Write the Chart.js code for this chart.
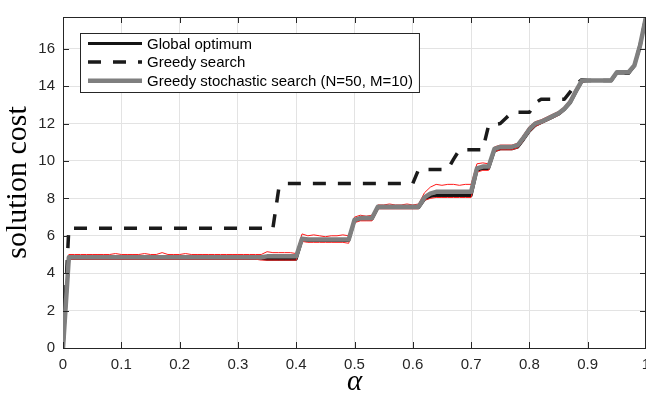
<!DOCTYPE html>
<html>
<head>
<meta charset="utf-8">
<script src="https://cdn.jsdelivr.net/npm/chart.js@4"></script>
<style>
    html, body { margin: 0; padding: 0; background: #fff; overflow: hidden; }
    canvas { display: block; }
</style>
</head>
<body>
<canvas id="grafico" width="646" height="397"></canvas>
<script>
// alpha values, 0 .. 1 in steps of 0.01
const alpha = [
    0.00, 0.01, 0.02, 0.03, 0.04, 0.05, 0.06, 0.07, 0.08, 0.09,
    0.10, 0.11, 0.12, 0.13, 0.14, 0.15, 0.16, 0.17, 0.18, 0.19,
    0.20, 0.21, 0.22, 0.23, 0.24, 0.25, 0.26, 0.27, 0.28, 0.29,
    0.30, 0.31, 0.32, 0.33, 0.34, 0.35, 0.36, 0.37, 0.38, 0.39,
    0.40, 0.41, 0.42, 0.43, 0.44, 0.45, 0.46, 0.47, 0.48, 0.49,
    0.50, 0.51, 0.52, 0.53, 0.54, 0.55, 0.56, 0.57, 0.58, 0.59,
    0.60, 0.61, 0.62, 0.63, 0.64, 0.65, 0.66, 0.67, 0.68, 0.69,
    0.70, 0.71, 0.72, 0.73, 0.74, 0.75, 0.76, 0.77, 0.78, 0.79,
    0.80, 0.81, 0.82, 0.83, 0.84, 0.85, 0.86, 0.87, 0.88, 0.89,
    0.90, 0.91, 0.92, 0.93, 0.94, 0.95, 0.96, 0.97, 0.98, 0.99,
    1.00
];

const globalOptimum = [
    0, 4.8, 4.8, 4.8, 4.8, 4.8, 4.8, 4.8, 4.8, 4.8,
    4.8, 4.8, 4.8, 4.8, 4.8, 4.8, 4.8, 4.8, 4.8, 4.8,
    4.8, 4.8, 4.8, 4.8, 4.8, 4.8, 4.8, 4.8, 4.8, 4.8,
    4.8, 4.8, 4.8, 4.8, 4.8, 4.75, 4.75, 4.75, 4.75, 4.75,
    4.75, 5.8, 5.75, 5.75, 5.75, 5.75, 5.75, 5.75, 5.75, 5.75,
    6.8, 6.9, 6.9, 6.9, 7.5, 7.5, 7.5, 7.5, 7.5, 7.5,
    7.5, 7.5, 7.95, 8.1, 8.15, 8.15, 8.15, 8.15, 8.15, 8.15,
    8.15, 9.5, 9.6, 9.6, 10.55, 10.65, 10.65, 10.65, 10.75, 11.15,
    11.6, 11.9, 12.05, 12.2, 12.35, 12.5, 12.75, 13.1, 13.7, 14.25,
    14.3, 14.3, 14.3, 14.3, 14.3, 14.7, 14.7, 14.7, 15.1, 16.2,
    17.7
];

const greedySearch = [
    0, 6.4, 6.4, 6.4, 6.4, 6.4, 6.4, 6.4, 6.4, 6.4,
    6.4, 6.4, 6.4, 6.4, 6.4, 6.4, 6.4, 6.4, 6.4, 6.4,
    6.4, 6.4, 6.4, 6.4, 6.4, 6.4, 6.4, 6.4, 6.4, 6.4,
    6.4, 6.4, 6.4, 6.4, 6.4, 6.4, 6.4, 8.5, 8.8, 8.8,
    8.8, 8.8, 8.8, 8.8, 8.8, 8.8, 8.8, 8.8, 8.8, 8.8,
    8.8, 8.8, 8.8, 8.8, 8.8, 8.8, 8.8, 8.8, 8.8, 8.8,
    8.8, 9.55, 9.55, 9.55, 9.55, 9.55, 9.55, 10.1, 10.6, 10.6,
    10.6, 10.6, 10.6, 11.9, 11.95, 12.0, 12.3, 12.6, 12.6, 12.6,
    12.6, 13.1, 13.3, 13.3, 13.3, 13.3, 13.3, 13.7, 14.1, 14.35,
    14.3, 14.3, 14.3, 14.3, 14.3, 14.7, 14.7, 14.7, 15.1, 16.2,
    17.7
];

const stochasticSearch = [
    0, 4.85, 4.85, 4.85, 4.85, 4.85, 4.85, 4.85, 4.85, 4.85,
    4.85, 4.85, 4.85, 4.85, 4.85, 4.85, 4.85, 4.85, 4.85, 4.85,
    4.85, 4.85, 4.85, 4.85, 4.85, 4.85, 4.85, 4.85, 4.85, 4.85,
    4.85, 4.85, 4.85, 4.85, 4.85, 4.9, 4.9, 4.9, 4.9, 4.9,
    4.9, 5.85, 5.8, 5.8, 5.8, 5.8, 5.8, 5.8, 5.8, 5.8,
    6.85, 6.95, 6.95, 6.95, 7.55, 7.55, 7.55, 7.55, 7.55, 7.55,
    7.55, 7.55, 8.05, 8.25, 8.35, 8.35, 8.35, 8.35, 8.35, 8.35,
    8.35, 9.6, 9.7, 9.7, 10.65, 10.75, 10.75, 10.75, 10.85, 11.25,
    11.7, 12.0, 12.1, 12.25, 12.4, 12.55, 12.8, 13.15, 13.75, 14.3,
    14.3, 14.3, 14.3, 14.3, 14.3, 14.75, 14.75, 14.75, 15.1, 16.2,
    17.7
];

// red envelope of the stochastic runs
const stochasticMax = [
    0, 5.0, 5.0, 5.0, 5.0, 5.0, 5.0, 5.0, 5.0, 5.05,
    5.0, 5.0, 5.0, 5.0, 5.05, 5.0, 5.0, 5.1, 5.0, 5.0,
    5.0, 5.05, 5.0, 5.0, 5.0, 5.0, 5.0, 5.0, 5.0, 5.0,
    5.0, 5.0, 5.0, 5.0, 5.0, 5.15, 5.1, 5.1, 5.1, 5.1,
    5.05, 6.1, 6.0, 6.05, 6.0, 5.95, 6.0, 6.0, 6.05, 6.0,
    7.0, 7.1, 7.05, 7.1, 7.65, 7.65, 7.7, 7.65, 7.65, 7.7,
    7.65, 7.7, 8.3, 8.6, 8.75, 8.7, 8.75, 8.75, 8.7, 8.75,
    8.75, 9.85, 9.9, 9.85, 10.75, 10.85, 10.85, 10.85, 10.95, 11.4,
    11.85, 12.1, 12.2, 12.35, 12.5, 12.65, 12.9, 13.3, 13.9, 14.35,
    14.3, 14.3, 14.3, 14.3, 14.3, 14.75, 14.75, 14.75, 15.1, 16.2,
    17.7
];

const stochasticMin = [
    0, 4.75, 4.75, 4.75, 4.75, 4.75, 4.75, 4.75, 4.75, 4.75,
    4.75, 4.75, 4.75, 4.75, 4.75, 4.75, 4.75, 4.75, 4.75, 4.75,
    4.75, 4.75, 4.75, 4.75, 4.75, 4.75, 4.75, 4.75, 4.75, 4.75,
    4.75, 4.75, 4.75, 4.75, 4.7, 4.7, 4.7, 4.7, 4.7, 4.7,
    4.7, 5.7, 5.65, 5.65, 5.65, 5.65, 5.65, 5.65, 5.65, 5.6,
    6.7, 6.8, 6.8, 6.8, 7.45, 7.45, 7.45, 7.45, 7.45, 7.45,
    7.45, 7.45, 7.9, 8.0, 8.05, 8.05, 8.05, 8.05, 8.05, 8.05,
    8.05, 9.4, 9.5, 9.5, 10.5, 10.6, 10.6, 10.6, 10.7, 11.1,
    11.55, 11.85, 12.0, 12.15, 12.3, 12.45, 12.7, 13.05, 13.65, 14.2,
    14.3, 14.3, 14.3, 14.3, 14.3, 14.75, 14.75, 14.75, 15.1, 16.2,
    17.7
];

const xTicks = [0, 0.1, 0.2, 0.3, 0.4, 0.5, 0.6, 0.7, 0.8, 0.9, 1];
const yTicks = [0, 2, 4, 6, 8, 10, 12, 14, 16];

const sansFont = "'Liberation Sans', Arial, Helvetica, sans-serif";
const serifFont = "'Liberation Serif', 'Times New Roman', serif";
const axisColor = "#262626";

function puntos(serie) {
    return alpha.map((a, i) => ({ x: a, y: serie[i] }));
}

// box round the axes with inward ticks, matlab style
const marco = {
    id: "marco",
    afterDatasetsDraw(chart) {
        const { ctx, chartArea: a, scales } = chart;
        ctx.save();
        ctx.strokeStyle = axisColor;
        ctx.lineWidth = 1;
        ctx.beginPath();
        ctx.moveTo(a.left, a.top + 0.5);
        ctx.lineTo(a.right, a.top + 0.5);
        ctx.moveTo(a.right - 0.5, a.top);
        ctx.lineTo(a.right - 0.5, a.bottom);
        xTicks.forEach(v => {
            const px = Math.round(scales.x.getPixelForValue(v)) + 0.5;
            ctx.moveTo(px, a.bottom);
            ctx.lineTo(px, a.bottom - 6);
            ctx.moveTo(px, a.top);
            ctx.lineTo(px, a.top + 6);
        });
        yTicks.forEach(v => {
            const py = Math.round(scales.y.getPixelForValue(v)) + 0.5;
            ctx.moveTo(a.left, py);
            ctx.lineTo(a.left + 6, py);
            ctx.moveTo(a.right, py);
            ctx.lineTo(a.right - 6, py);
        });
        ctx.stroke();
        ctx.restore();
    }
};

// legend inside the plot, upper left
const leyenda = {
    id: "leyenda",
    afterDraw(chart) {
        const { ctx, chartArea: a } = chart;
        const items = chart.data.datasets.filter(d => d.enLeyenda);
        const x0 = a.left + 17;
        const y0 = a.top + 16;
        ctx.save();
        ctx.font = "15px " + sansFont;
        const ancho = Math.max(...items.map(d => ctx.measureText(d.label).width));
        const w = 67 + ancho + 6;
        const h = 59;
        ctx.fillStyle = "#fff";
        ctx.fillRect(x0, y0, w, h);
        ctx.strokeStyle = axisColor;
        ctx.lineWidth = 1;
        ctx.strokeRect(x0 + 0.5, y0 + 0.5, w, h);
        items.forEach((d, i) => {
            const y = y0 + 10.5 + i * 18.6;
            ctx.beginPath();
            ctx.strokeStyle = d.borderColor;
            ctx.lineWidth = d.borderWidth;
            ctx.setLineDash(d.borderDash || []);
            ctx.moveTo(x0 + 8, y);
            ctx.lineTo(x0 + 62, y);
            ctx.stroke();
            ctx.setLineDash([]);
            ctx.fillStyle = "#000";
            ctx.textBaseline = "middle";
            ctx.fillText(d.label, x0 + 67, y + 1);
        });
        ctx.restore();
    }
};

const ctx = document.getElementById("grafico").getContext("2d");
new Chart(ctx, {
    type: "line",
    data: {
        datasets: [
            {
                label: "Global optimum",
                data: puntos(globalOptimum),
                borderColor: "#141414",
                borderWidth: 3,
                enLeyenda: true,
                order: 3
            },
            {
                label: "Greedy search",
                data: puntos(greedySearch),
                borderColor: "#1a1a1a",
                borderWidth: 3.5,
                borderDash: [13, 12],
                enLeyenda: true,
                order: 4
            },
            {
                label: "Greedy stochastic search (N=50, M=10)",
                data: puntos(stochasticSearch),
                borderColor: "#7f7f7f",
                borderWidth: 4.5,
                enLeyenda: true,
                order: 0
            },
            {
                label: "max",
                data: puntos(stochasticMax),
                borderColor: "#ff1a1a",
                borderWidth: 1,
                order: 1
            },
            {
                label: "min",
                data: puntos(stochasticMin),
                borderColor: "#ff1a1a",
                borderWidth: 1,
                order: 2
            }
        ]
    },
    options: {
        responsive: false,
        animation: false,
        devicePixelRatio: 1,
        elements: {
            point: { radius: 0 },
            line: { tension: 0, borderCapStyle: "butt", borderJoinStyle: "round" }
        },
        layout: {
            padding: { top: 9, left: 0, right: 0, bottom: 0 }
        },
        plugins: {
            legend: { display: false },
            tooltip: { enabled: false }
        },
        scales: {
            x: {
                type: "linear",
                min: 0,
                max: 1,
                afterBuildTicks: s => { s.ticks = xTicks.map(v => ({ value: v })); },
                afterFit: s => { s.height = 49; s.paddingRight = 0; s.paddingLeft = 0; },
                ticks: {
                    callback: v => String(+v.toFixed(1)),
                    color: axisColor,
                    font: { family: sansFont, size: 15 },
                    padding: 8,
                    maxRotation: 0,
                    autoSkip: false
                },
                grid: { color: "#e3e3e3", drawTicks: false },
                border: { color: axisColor, width: 1 },
                title: {
                    display: true,
                    text: "α",
                    color: "#000",
                    font: { family: serifFont, size: 29, style: "italic" },
                    padding: { top: 0, bottom: -3 }
                }
            },
            y: {
                min: 0,
                max: 17.7,
                afterBuildTicks: s => { s.ticks = yTicks.map(v => ({ value: v })); },
                afterFit: s => { s.width = 63; },
                ticks: {
                    color: axisColor,
                    font: { family: sansFont, size: 15 },
                    padding: 8,
                    autoSkip: false
                },
                grid: { color: "#e3e3e3", drawTicks: false },
                border: { color: axisColor, width: 1 },
                title: {
                    display: true,
                    text: "solution cost",
                    color: "#000",
                    font: { family: serifFont, size: 30 },
                    padding: { top: 0, bottom: 0 }
                }
            }
        }
    },
    plugins: [marco, leyenda]
});
</script>
</body>
</html>
